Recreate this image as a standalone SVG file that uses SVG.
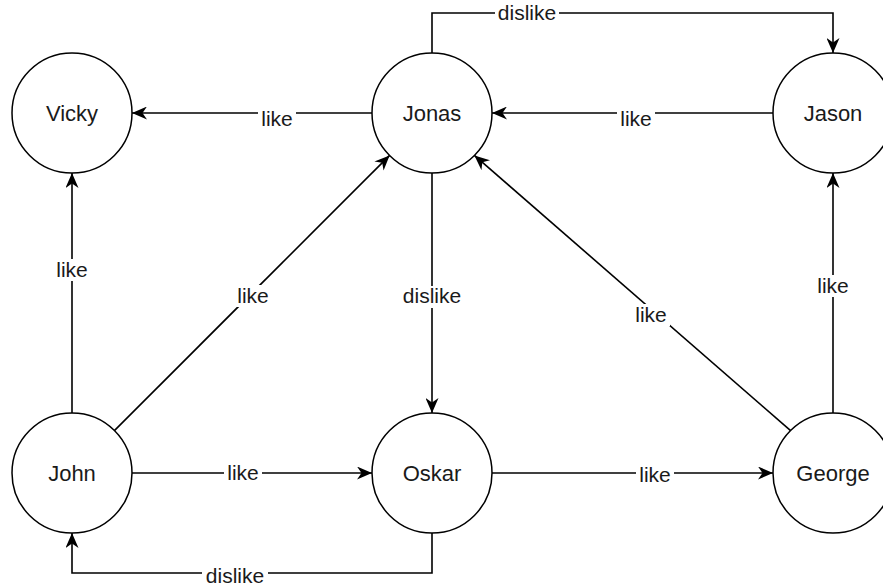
<svg xmlns="http://www.w3.org/2000/svg" width="883" height="586" viewBox="0 0 883 586">
  <style>
    .node circle { fill: #fff; stroke: #000; stroke-width: 1.5; }
    .node text { font-family: "Liberation Sans", Arial, sans-serif; font-size: 22px; fill: #1a1a1a; text-anchor: middle; }
    .edge { fill: none; stroke: #000; stroke-width: 1.6; }
    .lbl rect { fill: #fff; }
    .lbl text { font-family: "Liberation Sans", Arial, sans-serif; font-size: 21px; fill: #1a1a1a; text-anchor: middle; }
  </style>
  <defs>
    <marker id="arr" markerUnits="userSpaceOnUse" markerWidth="15" markerHeight="13" viewBox="0 0 15 13" refX="15" refY="6.5" orient="auto">
      <path d="M0,0 L15,6.5 L0,13 L4.5,6.5 z" fill="#000"/>
    </marker>
  </defs>
  <rect width="883" height="586" fill="#fff"/>
  <g id="connectors">
    <path class="edge" d="M372,113 L132,113" marker-end="url(#arr)"/>
    <path class="edge" d="M773,113 L492,113" marker-end="url(#arr)"/>
    <path class="edge" d="M432,53 L432,13 L833,13 L833,53" marker-end="url(#arr)"/>
    <path class="edge" d="M72,413 L72,173" marker-end="url(#arr)"/>
    <path class="edge" d="M114.4,430.6 L389.6,155.4" marker-end="url(#arr)"/>
    <path class="edge" d="M432,173 L432,413" marker-end="url(#arr)"/>
    <path class="edge" d="M790.6,430.6 L474.4,155.4" marker-end="url(#arr)"/>
    <path class="edge" d="M833,413 L833,173" marker-end="url(#arr)"/>
    <path class="edge" d="M132,473 L372,473" marker-end="url(#arr)"/>
    <path class="edge" d="M492,473 L773,473" marker-end="url(#arr)"/>
    <path class="edge" d="M432,533 L432,573 L72,573 L72,533" marker-end="url(#arr)"/>
    <g class="lbl">
      <rect x="258" y="106" width="38" height="22"/><text x="277" y="126">like</text>
      <rect x="617" y="106" width="38" height="22"/><text x="636" y="126">like</text>
      <rect x="495" y="3" width="64" height="20"/><text x="527" y="20">dislike</text>
      <rect x="53" y="259" width="38" height="22"/><text x="72" y="277">like</text>
      <rect x="234" y="285" width="38" height="22"/><text x="253" y="303">like</text>
      <rect x="399" y="286" width="66" height="22"/><text x="432" y="303">dislike</text>
      <rect x="632" y="304" width="38" height="22"/><text x="651" y="322">like</text>
      <rect x="814" y="275" width="38" height="22"/><text x="833" y="293">like</text>
      <rect x="224" y="463" width="38" height="22"/><text x="243" y="480">like</text>
      <rect x="636" y="464" width="38" height="22"/><text x="655" y="482">like</text>
      <rect x="202" y="565" width="66" height="21"/><text x="235" y="583">dislike</text>
    </g>
  </g>
  <g id="node-vicky" class="node"><circle cx="72" cy="113" r="60"/><text x="72" y="121">Vicky</text></g>
  <g id="node-jonas" class="node"><circle cx="432" cy="113" r="60"/><text x="432" y="121">Jonas</text></g>
  <g id="node-jason" class="node"><circle cx="833" cy="113" r="60"/><text x="833" y="121">Jason</text></g>
  <g id="node-john" class="node"><circle cx="72" cy="473" r="60"/><text x="72" y="481">John</text></g>
  <g id="node-oskar" class="node"><circle cx="432" cy="473" r="60"/><text x="432" y="481">Oskar</text></g>
  <g id="node-george" class="node"><circle cx="833" cy="473" r="60"/><text x="833" y="481">George</text></g>
</svg>
